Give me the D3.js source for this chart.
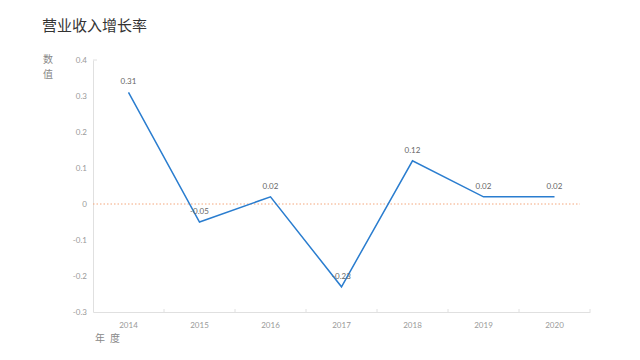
<!DOCTYPE html>
<html><head><meta charset="utf-8">
<script src="https://cdn.jsdelivr.net/npm/d3@7"></script>
<style>body{margin:0;background:#fff}svg{display:block}</style>
</head><body>
<svg id="c" width="640" height="360"></svg>
<script>
const years = ["2014","2015","2016","2017","2018","2019","2020"];
const growth = [0.31,-0.05,0.02,-0.23,0.12,0.02,0.02];
const yTicks = [0.4,0.3,0.2,0.1,0,-0.1,-0.2,-0.3];
const titleText = "营业收入增长率";
const yTitle = ["数","值"];
const xTitle = ["年","度"];

const svg = d3.select("#c");
const font = "'Noto Sans CJK SC','Noto Sans',sans-serif";
const x = d3.scaleBand().domain(years).range([93,590]);
const y = d3.scaleLinear().domain([-0.3,0.4]).range([312,60]);

svg.append("text").attr("x",42).attr("y",31).text(titleText)
  .attr("font-family",font).attr("font-size",15).attr("fill","#333");

// y axis
const ya = svg.append("g").attr("transform","translate(93,0)")
  .call(d3.axisLeft(y).tickValues(yTicks).tickSize(0).tickPadding(6).tickFormat(d=>d===0?"0":d3.format(".1f")(d).replace("−","-")));
ya.select(".domain").attr("stroke","#e0e0e0");
ya.selectAll("text").attr("fill","#999").attr("font-size",8).attr("font-family","Lato,'Noto Sans',sans-serif");
svg.append("line").attr("x1",93).attr("x2",97).attr("y1",y(0.4)).attr("y2",y(0.4)).attr("stroke","#e0e0e0");

// x axis
const xa = svg.append("g").attr("transform","translate(0,312)")
  .call(d3.axisBottom(x).tickSize(0).tickPadding(10));
xa.select(".domain").attr("stroke","#e0e0e0");
xa.selectAll("text").attr("fill","#999").attr("font-size",8).attr("font-family","Lato,'Noto Sans',sans-serif");
svg.append("g").selectAll("line").data(years.slice(1)).join("line")
  .attr("x1",d=>x(d)).attr("x2",d=>x(d)).attr("y1",312).attr("y2",309).attr("stroke","#e0e0e0");
svg.append("line").attr("x1",590).attr("x2",590).attr("y1",312).attr("y2",309).attr("stroke","#e0e0e0");

// axis titles
svg.append("g").selectAll("text").data(yTitle).join("text")
  .attr("x",48).attr("y",(d,i)=>63+i*15).attr("text-anchor","middle").text(d=>d)
  .attr("font-family",font).attr("font-size",10).attr("fill","#888");
svg.append("g").selectAll("text").data(xTitle).join("text")
  .attr("x",(d,i)=>95+i*15).attr("y",342).text(d=>d)
  .attr("font-family",font).attr("font-size",10).attr("fill","#888");

// zero reference
svg.append("line").attr("x1",93).attr("x2",580).attr("y1",y(0)).attr("y2",y(0))
  .attr("stroke","#f4a77c").attr("stroke-width",1).attr("stroke-dasharray","1.5,2");

const cx = d => x(d)+x.bandwidth()/2;
const line = d3.line().x((d,i)=>cx(years[i])).y(d=>y(d));
svg.append("path").datum(growth).attr("d",line).attr("fill","none")
  .attr("stroke","#2a7dcf").attr("stroke-width",1.5).attr("stroke-linejoin","miter");

svg.append("g").selectAll("text").data(growth).join("text")
  .attr("x",(d,i)=>cx(years[i])).attr("y",d=>y(d)-8).attr("text-anchor","middle")
  .text(d=>d3.format(".2f")(d).replace("−","-"))
  .attr("fill","#666").attr("font-size",8).attr("font-family","Lato,'Noto Sans',sans-serif");
</script>
</body></html>
